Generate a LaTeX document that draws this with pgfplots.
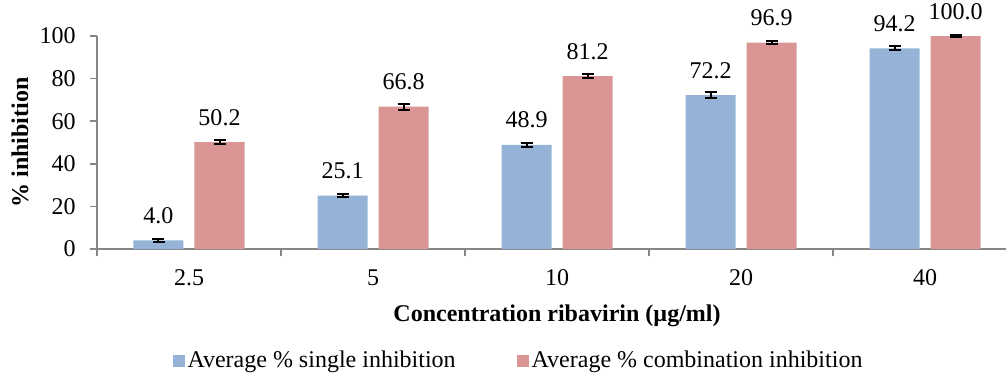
\documentclass[border=0pt]{standalone}
\usepackage{fontspec}
\setmainfont{Liberation Serif}
\usepackage{pgfplots}
\usepackage{pgfplotstable}
\pgfplotsset{compat=1.18}
\definecolor{barblue}{HTML}{95B3D7}
\definecolor{barred}{HTML}{D99694}
\definecolor{axisgray}{HTML}{868686}
\pgfplotstableread{
x y e lab
0 4.0 0.5 4.0
1 25.1 0.9 25.1
2 48.9 0.9 48.9
3 72.2 1.3 72.2
4 94.2 0.9 94.2
}\single
\pgfplotstableread{
x y e lab
0 50.2 1.0 50.2
1 66.8 1.4 66.8
2 81.2 1.1 81.2
3 96.9 0.8 96.9
4 100.0 0.5 100.0
}\combo
\begin{document}
\fontsize{12}{14}\selectfont
\begin{tikzpicture}
\begin{axis}[
  at={(0,0)}, anchor=south west,
  scale only axis,
  width=460pt, height=106.5pt,
  xmin=-0.5, xmax=4.5,
  ymin=0, ymax=100,
  ytick={0,20,...,100},
  yticklabels={0,20,40,60,80,100},
  xtick={-0.5,0.5,...,4.5},
  xticklabels={},
  extra x ticks={0,1,2,3,4},
  extra x tick labels={2.5,5,10,20,40},
  extra x tick style={major tick length=0pt, xticklabel style={anchor=base, yshift=-18pt}},
  axis lines*=left,
  axis line style={axisgray, line width=0.8pt},
  tick style={axisgray, line width=0.8pt},
  major tick length=3.5pt,
  tick align=outside,
  /pgf/number format/assume math mode=true,
  yticklabel style={xshift=-3pt},
  clip=false,
  ybar=5.5pt,
  bar width=25pt,
  xlabel={\textbf{Concentration ribavirin (µg/ml)}},
  ylabel={\textbf{\% inhibition}},
  xlabel style={at={(axis description cs:0.5,0)}, anchor=base, yshift=-36pt},
  ylabel style={at={(axis description cs:-0.0837,0.5)}, anchor=center},
  point meta=explicit symbolic,
  nodes near coords={\pgfplotspointmeta},
  nodes near coords style={anchor=base, yshift=8.5pt, text=black, inner sep=0pt},
  error bars/y dir=both,
  error bars/y explicit,
  error bars/error bar style={black, line width=1pt},
  error bars/error mark options={rotate=90, mark size=3pt, black, line width=1pt},
  legend style={draw=none, at={(axis description cs:0.4587,-0.526)}, anchor=center,
    legend columns=2, /tikz/every even column/.append style={column sep=29pt},
    nodes={inner xsep=1.5pt, inner ysep=0pt}},
  legend image code/.code={\fill[#1] (0pt,-3pt) rectangle (6pt,3pt);},
]
\addplot[fill=barblue, draw=none] table[x=x, y=y, y error=e, meta=lab] {\single};
\addlegendentry{Average \% single inhibition}
\addplot[fill=barred, draw=none] table[x=x, y=y, y error=e, meta=lab] {\combo};
\addlegendentry{Average \% combination inhibition}
\end{axis}
\pgfresetboundingbox
\path[use as bounding box] (-48.5pt,-61.5pt) rectangle (454.5pt,124.5pt);
\end{tikzpicture}
\end{document}
